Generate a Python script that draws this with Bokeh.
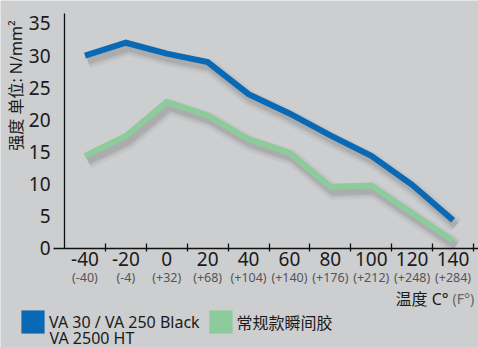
import numpy as np
from bokeh.plotting import figure
from bokeh.models import (Range1d, FixedTicker, LinearAxis, Label, Legend, LegendItem,
                          ColumnDataSource)
from bokeh.transform import dodge
from bokeh.embed import file_html
from bokeh.resources import INLINE

# ---- data ----
temps_c = ["-40", "-20", "0", "20", "40", "60", "80", "100", "120", "140"]
temps_f = ["(-40)", "(-4)", "(+32)", "(+68)", "(+104)", "(+140)", "(+176)", "(+212)", "(+248)", "(+284)"]
va30 = [30, 32, 30.3, 29, 24, 21, 17.6, 14.4, 9.9, 4.4]
generic = [14.4, 17.5, 22.8, 20.7, 17.0, 14.9, 9.6, 9.8, 5.5, 1.2]
y_ticks = [0, 5, 10, 15, 20, 25, 30, 35]
series_names = ["VA 30 / VA 250 Black", "常规款瞬间胶"]
series_note = "VA 2500 HT"
y_title = "强度 单位: N/mm²"
x_title = "温度 C°"
x_title_f = "(F°)"

BG = "#cdced0"
BLUE = "#0a69b5"
GREEN = "#8dcb9b"
TXT = "#1a1a1a"
LATIN = "Noto Sans"
MIXED = "'Noto Sans', 'Noto Sans CJK SC'"

W, H = 478, 347
idx = list(range(len(temps_c)))
src = ColumnDataSource(dict(x=idx, va=va30, gen=generic))

p = figure(width=W, height=H, output_backend="svg", toolbar_location=None,
           x_range=Range1d(-2.065, 9.622), y_range=Range1d(-15.40, 38.57),
           x_axis_type=None, y_axis_type=None,
           min_border_left=0, min_border_right=0, min_border_top=0, min_border_bottom=0)
p.background_fill_color = BG
p.border_fill_color = BG
p.outline_line_color = None
p.grid.visible = False

# soft shadows
for w, a in [(16, 0.05), (11, 0.08), (7, 0.10)]:
    p.line(x=dodge("x", 0.07), y=dodge("va", -0.8), source=src, line_width=w,
           line_color="#333333", line_alpha=a, line_join="round")
    p.line(x=dodge("x", 0.07), y=dodge("gen", -0.8), source=src, line_width=w,
           line_color="#333333", line_alpha=a, line_join="round")

p.line(x="x", y="gen", source=src, line_width=6, line_color=GREEN, line_join="miter")
p.line(x="x", y="va", source=src, line_width=6, line_color=BLUE, line_join="miter")

# y axis
yax = LinearAxis(ticker=FixedTicker(ticks=y_ticks), fixed_location=-0.5, bounds=(0, 36.55))
yax.axis_line_color = "#111111"
yax.axis_line_width = 1.3
yax.major_tick_out = 0
yax.major_tick_in = 0
yax.minor_tick_out = 0
yax.minor_tick_in = 0
yax.major_label_standoff = 14
yax.major_label_text_font = LATIN
yax.major_label_text_font_size = "19px"
yax.major_label_text_color = TXT
p.add_layout(yax, "left")

# x axis with boundary ticks (minor) and Celsius labels
xax = LinearAxis(ticker=FixedTicker(ticks=idx, minor_ticks=[i + 0.5 for i in idx]),
                 fixed_location=0, bounds=(-0.77, 9.622))
xax.major_label_overrides = {i: t for i, t in zip(idx, temps_c)}
xax.axis_line_color = "#111111"
xax.axis_line_width = 1.3
xax.major_tick_out = 0
xax.major_tick_in = 0
xax.minor_tick_in = 5
xax.minor_tick_out = 3
xax.minor_tick_line_color = "#111111"
xax.minor_tick_line_width = 1.3
xax.major_label_standoff = 1
xax.major_label_text_font = LATIN
xax.major_label_text_font_size = "19px"
xax.major_label_text_color = TXT
p.add_layout(xax, "below")

# Fahrenheit labels
fax = LinearAxis(ticker=FixedTicker(ticks=idx), fixed_location=0)
fax.major_label_overrides = {i: t for i, t in zip(idx, temps_f)}
fax.axis_line_color = None
fax.major_tick_out = 0
fax.major_tick_in = 0
fax.minor_tick_out = 0
fax.minor_tick_in = 0
fax.major_label_standoff = 21
fax.major_label_text_font = LATIN
fax.major_label_text_font_size = "12.5px"
fax.major_label_text_color = "#555555"
p.add_layout(fax, "below")

# axis titles
p.add_layout(Label(x=15, y=327, x_units="screen", y_units="screen", text=y_title,
                   angle=np.pi / 2, text_align="right", text_baseline="middle",
                   text_font=MIXED, text_font_size="16px", text_color=TXT))
p.add_layout(Label(x=395, y=49, x_units="screen", y_units="screen", text=x_title,
                   text_align="left", text_baseline="middle",
                   text_font=MIXED, text_font_size="16px", text_color=TXT))
p.add_layout(Label(x=452, y=49, x_units="screen", y_units="screen", text=x_title_f,
                   text_align="left", text_baseline="middle",
                   text_font=LATIN, text_font_size="14px", text_color="#666666"))

# legend swatches (hidden bars carrying the series colours)
r1 = p.vbar(x="x", top="va", width=0.5, source=src, fill_color=BLUE, line_alpha=0, visible=False)
r2 = p.vbar(x="x", top="gen", width=0.5, source=src, fill_color=GREEN, line_alpha=0, visible=False)
legend = Legend(items=[LegendItem(label=series_names[0], renderers=[r1]),
                       LegendItem(label=series_names[1], renderers=[r2])],
                location=(18, 11), orientation="horizontal",
                glyph_width=29, glyph_height=29, label_standoff=2, spacing=6,
                padding=0, margin=0, border_line_color=None, background_fill_alpha=0,
                label_text_font=MIXED, label_text_font_size="16px",
                label_text_color=TXT, click_policy="none")
p.add_layout(legend, "center")
p.add_layout(Label(x=49, y=10, x_units="screen", y_units="screen", text=series_note,
                   text_align="left", text_baseline="middle",
                   text_font=LATIN, text_font_size="16px", text_color=TXT))

open("out.html", "w").write(file_html(p, INLINE))
